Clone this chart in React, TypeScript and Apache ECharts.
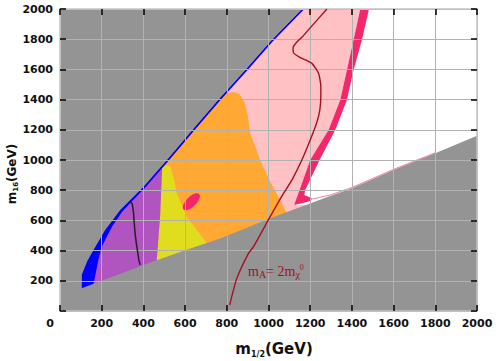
import React, { useEffect, useRef } from 'react';
import * as echarts from 'echarts';

// axis ranges
const X_RANGE = [0, 2000];
const Y_RANGE = [0, 2000];
const TICK_STEP = 200;

// boundaries (m1/2, m16) in GeV
const lowerBoundary = [[104,150],[400,305],[600,402],[768,480],[1008,614],[1296,762],[1400,813],[1608,938],[1800,1044],[2000,1160]];
const blueOuter = [[104,150],[104,240],[130,330],[160,404],[216,536],[288,669],[400,823],[512,1000],[635,1200],[760,1400],[888,1596],[1008,1784],[1160,2000]];
const blueInner = [[1172,2000],[1020,1784],[900,1596],[772,1400],[647,1200],[524,1000],[412,823],[336,713],[300,660],[250,560],[200,426],[184,338],[160,172],[160,120]];
const purpleRegion = [[0,0],[0,940],[490,940],[480,625],[464,338],[460,0]];
const yellowRegion = [[460,0],[464,338],[480,625],[488,934],[496,955],[512,965],[528,958],[545,880],[560,779],[608,625],[656,536],[704,448],[780,400],[780,0]];
const orangeRegion = [[0,0],[0,1444],[800,1444],[832,1450],[860,1438],[885,1380],[900,1300],[912,1179],[960,1000],[1008,856],[1048,757],[1088,647],[1120,600],[1120,0]];
const magentaLeft = [[1440,2000],[1408,1795],[1376,1596],[1344,1397],[1288,1199],[1200,1000],[1149,801],[1123,702]];
const magentaFoot = [[1184,722],[1206,732]];
const magentaRight = [[1206,748],[1172,768],[1176,801],[1245,1000],[1320,1199],[1376,1397],[1408,1596],[1448,1795],[1482,2000]];
const magentaThin = [[1206,740],[1296,768],[1400,818],[1608,943],[1800,1048]];
const magentaBlob = [[630,724]];
const blackLine = [[336,722],[346,712],[352,660],[355,600],[360,515],[366,450],[371,404],[378,340],[384,305]];
const redLine = [[814,40],[848,216],[904,382],[928,426],[1008,625],[1072,779],[1112,867],[1160,1000],[1200,1132],[1232,1250],[1246,1331],[1251,1420],[1251,1485],[1240,1574],[1208,1640],[1150,1680],[1120,1710],[1118,1745],[1135,1780],[1165,1820],[1200,1875],[1280,2000]];

const C = {
  gray: '#949494', pink: '#ffc1c3', magenta: '#f2286a', orange: '#ffa834',
  yellow: '#dfdd1e', purple: '#b055c0', blue: '#0000ff', red: '#a3111f', black: '#2a1a2a',
};

const pinkRegion = [[0,0],[0,2000],...magentaLeft,[1184,700],[1184,0]];
const magentaRegion = [...magentaLeft, ...magentaFoot, ...magentaRight];
const grayRegion = [[0,0],[2000,0],...[...lowerBoundary].reverse(),...blueOuter,[0,2000]];
const blueRegion = [...blueOuter, ...blueInner];

function poly(name: string, pts: number[][], color: string, z: number) {
  return {
    type: 'custom', name, coordinateSystem: 'cartesian2d', clip: true, silent: true, z,
    data: [pts[0]],
    renderItem: (_p: any, api: any) => ({
      type: 'polygon',
      shape: { points: pts.map((p) => api.coord(p)) },
      style: { fill: color, stroke: null },
    }),
  };
}

const axisCommon = (pos: string, labels: boolean, split: boolean) => ({
  type: 'value', position: pos, min: X_RANGE[0], max: X_RANGE[1], interval: TICK_STEP, z: 11,
  axisLine: { show: true, onZero: false, lineStyle: { color: '#c4c4c4', width: 1.5 } },
  axisTick: { show: true, inside: true, length: 6, lineStyle: { color: '#000', width: 1.5 } },
  splitLine: { show: split, lineStyle: { color: '#b2b2b2', width: 1 } },
  axisLabel: labels ? {
    show: true, margin: 7, color: '#111', fontFamily: 'DejaVu Sans', fontWeight: 'bold', fontSize: 11,
    formatter: (v: number) => (v === 0 ? '' : String(v)),
  } : { show: false },
});

export default function App() {
  const ref = useRef<HTMLDivElement>(null);
  useEffect(() => {
    document.body.style.margin = '0';
    const chart = echarts.init(ref.current!, null, { renderer: 'svg' });
    chart.setOption({
      animation: false,
      backgroundColor: '#fff',
      grid: { left: 60, right: 21, top: 9, bottom: 50, containLabel: false },
      xAxis: [axisCommon('bottom', true, true), axisCommon('top', false, false)],
      yAxis: [axisCommon('left', true, true), axisCommon('right', false, false)],
      series: [
        poly('pink', pinkRegion, C.pink, 2),
        poly('magenta', magentaRegion, C.magenta, 3),
        poly('orange', orangeRegion, C.orange, 4),
        poly('yellow', yellowRegion, C.yellow, 5),
        poly('purple', purpleRegion, C.purple, 6),
        {
          type: 'scatter', data: magentaBlob, symbol: 'circle', symbolSize: [22, 10], symbolRotate: 45,
          itemStyle: { color: C.magenta, opacity: 1 }, z: 7, silent: true,
        },
        poly('blue', blueRegion, C.blue, 8),
        poly('gray', grayRegion, C.gray, 9),
        {
          type: 'line', data: magentaThin, symbol: 'none', z: 10, silent: true,
          lineStyle: { color: C.magenta, width: 1, opacity: 0.6 },
        },
        {
          type: 'line', data: blackLine, symbol: 'none', z: 12, silent: true,
          lineStyle: { color: C.black, width: 1.5 },
        },
        {
          type: 'line', data: redLine, symbol: 'none', smooth: 0.2, z: 12, silent: true,
          lineStyle: { color: C.red, width: 1.4 },
        },
      ],
      graphic: [
        {
          type: 'text', x: 50, y: 323, z: 20,
          style: { text: '0', align: 'center', verticalAlign: 'middle', fontFamily: 'DejaVu Sans', fontWeight: 'bold', fontSize: 11, fill: '#111' },
        },
        {
          type: 'text', x: 274, y: 349, z: 20,
          style: {
            text: '{a|m}{b|1/2}{a|(GeV)}', align: 'center', verticalAlign: 'middle', fill: '#111',
            rich: {
              a: { fontFamily: 'DejaVu Sans', fontWeight: 'bold', fontSize: 15, lineHeight: 18, fill: '#111' },
              b: { fontFamily: 'DejaVu Sans', fontWeight: 'bold', fontSize: 8, lineHeight: 9, verticalAlign: 'bottom', fill: '#111' },
            },
          },
        },
        {
          type: 'text', x: 12, y: 174, rotation: Math.PI / 2, z: 20,
          style: {
            text: '{a|m}{b|16}{a|(GeV)}', align: 'center', verticalAlign: 'middle', fill: '#111',
            rich: {
              a: { fontFamily: 'DejaVu Sans', fontWeight: 'bold', fontSize: 12, lineHeight: 15, fill: '#111' },
              b: { fontFamily: 'DejaVu Sans', fontWeight: 'bold', fontSize: 7, lineHeight: 8, verticalAlign: 'bottom', fill: '#111' },
            },
          },
        },
        {
          type: 'text', x: 248, y: 271, z: 20,
          style: {
            text: '{m|m}{s|A}{m|= 2m}{s|χ}{p|0}', align: 'left', verticalAlign: 'middle', fill: C.red,
            rich: {
              m: { fontFamily: 'Liberation Serif', fontSize: 14, lineHeight: 16, fill: C.red },
              s: { fontFamily: 'Liberation Serif', fontSize: 10, lineHeight: 9, verticalAlign: 'bottom', fill: C.red },
              p: { fontFamily: 'Liberation Serif', fontSize: 8, lineHeight: 14, verticalAlign: 'top', fill: C.red },
            },
          },
        },
      ],
    });
    return () => chart.dispose();
  }, []);
  return <div ref={ref} style={{ width: 498, height: 361 }} />;
}
